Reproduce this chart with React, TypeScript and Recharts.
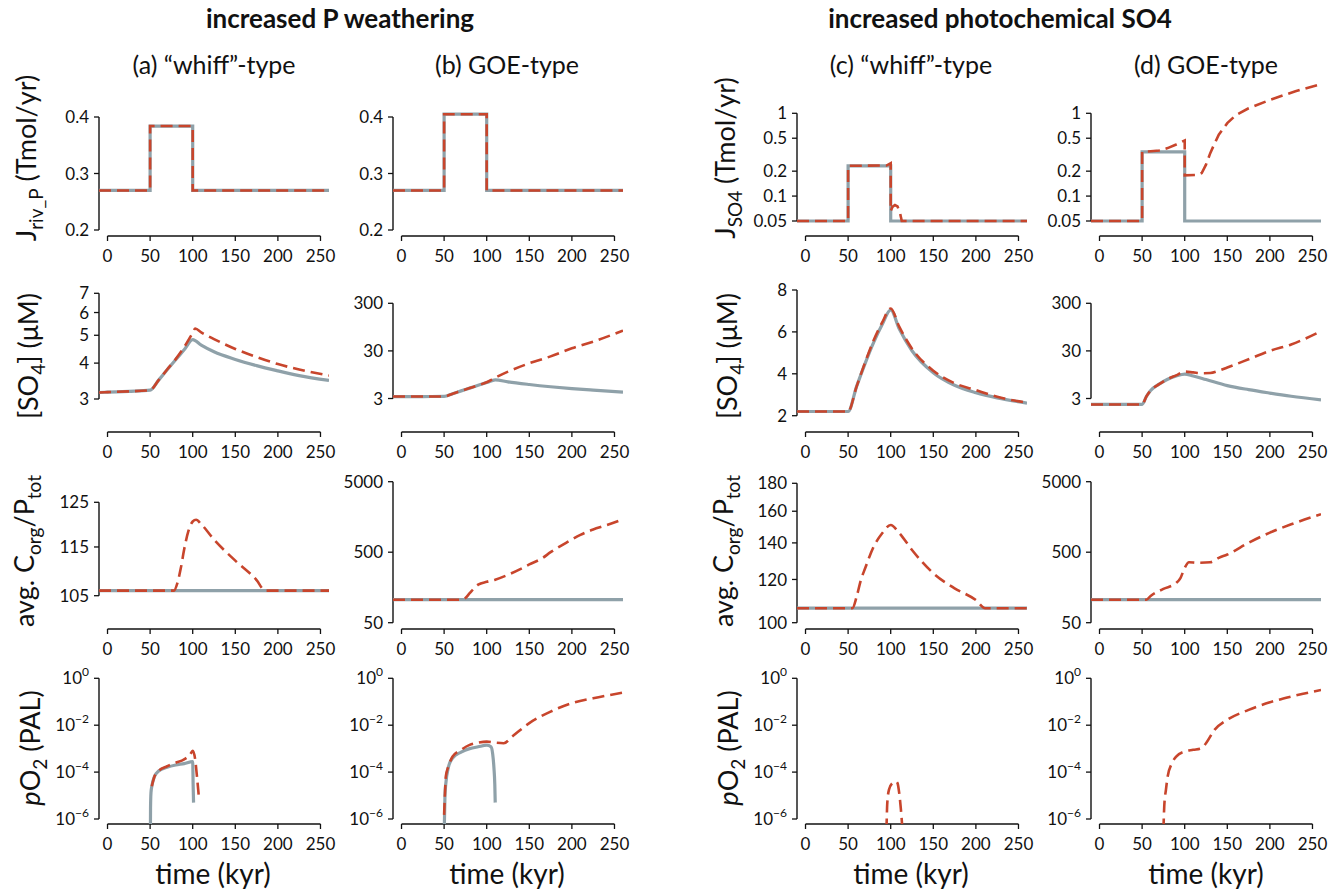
import React from 'react';
import { LineChart, Line, XAxis, YAxis, ReferenceLine } from 'recharts';

const FONT = 'Lato, "Open Sans", sans-serif';
const GRAY = '#8fa1a9';
const RED = '#c8452c';
const INK = '#111';
const X_TICKS = [0, 50, 100, 150, 200, 250];

// row 1: river P flux / photochemical SO4 flux (Tmol/yr)
const tStep = [-10, 50, 50, 100, 100, 260];
const fluxGrayA = [0.27, 0.27, 0.384, 0.384, 0.27, 0.27];
const fluxRedA = [0.27, 0.27, 0.384, 0.384, 0.27, 0.27];
const fluxGrayB = [0.27, 0.27, 0.405, 0.405, 0.27, 0.27];
const fluxRedB = [0.27, 0.27, 0.405, 0.405, 0.27, 0.27];
const fluxGrayC = [0.05, 0.05, 0.232, 0.232, 0.05, 0.05];
const fluxRedCT = [-10, 50, 50, 95, 100, 100, 102, 105, 108, 111, 113, 260];
const fluxRedC = [0.05, 0.05, 0.232, 0.234, 0.25, 0.066, 0.074, 0.078, 0.075, 0.062, 0.05, 0.05];
const fluxGrayD = [0.05, 0.05, 0.342, 0.342, 0.05, 0.05];
const fluxRedDT = [-10, 50, 50, 70, 80, 90, 100, 100, 115, 120, 125, 130, 135, 140, 150, 160, 175, 200, 230, 260];
const fluxRedD = [0.05, 0.05, 0.342, 0.355, 0.38, 0.42, 0.47, 0.178, 0.18, 0.19, 0.24, 0.33, 0.43, 0.55, 0.76, 0.95, 1.15, 1.45, 1.85, 2.25];

// row 2: [SO4] (uM)
const tSo4 = [-10, 0, 25, 50, 60, 70, 80, 90, 100, 110, 125, 150, 175, 200, 225, 260];
const so4GrayA = [3.16, 3.17, 3.19, 3.22, 3.49, 3.79, 4.11, 4.45, 4.83, 4.62, 4.38, 4.12, 3.92, 3.76, 3.62, 3.48];
const so4RedAT = [-10, 0, 25, 50, 60, 70, 80, 90, 100, 103, 110, 125, 150, 175, 200, 225, 260];
const so4RedA = [3.16, 3.17, 3.19, 3.22, 3.49, 3.8, 4.13, 4.55, 5.1, 5.28, 5.12, 4.85, 4.48, 4.2, 3.97, 3.8, 3.62];
const so4GrayB = [3.3, 3.3, 3.3, 3.32, 3.79, 4.34, 4.96, 5.67, 6.48, 7.4, 6.7, 5.9, 5.3, 4.85, 4.5, 4.1];
const so4RedB = [3.3, 3.3, 3.3, 3.32, 3.79, 4.34, 4.96, 5.67, 6.6, 8.2, 11, 16.5, 23, 34, 47, 80];
const so4GrayC = [2.2, 2.2, 2.2, 2.2, 3.4, 4.5, 5.5, 6.35, 7.05, 6.15, 5.1, 4.05, 3.45, 3.1, 2.85, 2.6];
const so4RedC = [2.2, 2.2, 2.2, 2.2, 3.4, 4.55, 5.6, 6.45, 7.12, 6.25, 5.2, 4.15, 3.55, 3.22, 2.9, 2.62];
const so4GrayDT = [-10, 0, 25, 50, 55, 60, 70, 80, 90, 100, 110, 125, 150, 175, 200, 225, 260];
const so4GrayD = [2.25, 2.25, 2.25, 2.25, 3.3, 4.4, 6.0, 7.6, 8.9, 9.8, 8.9, 7.5, 5.6, 4.6, 3.9, 3.35, 2.8];
const so4RedDT = [-10, 0, 25, 50, 55, 60, 70, 80, 90, 100, 110, 120, 130, 140, 150, 175, 200, 225, 260];
const so4RedD = [2.25, 2.25, 2.25, 2.25, 3.3, 4.4, 6.0, 7.7, 9.2, 11.0, 10.6, 10.2, 10.3, 11.5, 13.4, 20, 30, 41, 78];

// row 3: average Corg/Ptot burial ratio
const tFlat = [-10, 260];
const cpGrayA = [106, 106];
const cpRedAT = [-10, 50, 78, 82, 86, 90, 95, 100, 104, 110, 125, 150, 175, 185, 260];
const cpRedA = [106, 106, 106, 107.5, 110.5, 114.5, 118.5, 120.6, 121, 120, 116.6, 112.1, 108.1, 106, 106];
const cpGrayB = [106, 106];
const cpRedBT = [-10, 50, 70, 75, 80, 90, 100, 110, 125, 140, 150, 165, 175, 195, 210, 225, 240, 260];
const cpRedB = [106, 106, 106, 112, 131, 173, 190, 204, 239, 290, 335, 410, 500, 700, 880, 1050, 1200, 1466];
const cpGrayC = [106.3, 106.3];
const cpRedCT = [-10, 50, 55, 60, 65, 70, 80, 90, 100, 110, 125, 150, 175, 200, 211, 260];
const cpRedC = [106.3, 106.3, 106.3, 111.6, 119.7, 125.8, 137.8, 145.8, 151, 146, 135.9, 123.2, 115.6, 110, 106.3, 106.3];
const cpGrayD = [106, 106];
const cpRedDT = [-10, 50, 55, 60, 75, 90, 95, 100, 105, 115, 130, 140, 150, 175, 200, 225, 260];
const cpRedD = [106, 106, 106, 120, 151, 183, 215, 299, 360, 354, 360, 416, 463, 681, 946, 1244, 1728];

// row 4: pO2 (PAL)
const o2GrayAT = [50, 50.5, 51, 52, 55, 60, 70, 80, 90, 100, 100.5, 101];
const o2GrayA = [1e-9, 3e-6, 1.3e-5, 2.5e-5, 6.3e-5, 1.12e-4, 1.6e-4, 2e-4, 2.3e-4, 2.8e-4, 3e-5, 5e-6];
const o2RedAT = [52, 55, 60, 70, 80, 90, 97, 100, 103, 105, 107];
const o2RedA = [2.5e-5, 6.3e-5, 1.12e-4, 1.78e-4, 2.5e-4, 3.5e-4, 5.6e-4, 8e-4, 3.3e-4, 6.5e-5, 1.1e-5];
const o2GrayBT = [50.3, 51, 52, 55, 60, 70, 80, 90, 100, 105, 107, 108.5, 109.5, 110];
const o2GrayB = [6e-7, 1e-5, 3.2e-5, 1.6e-4, 4e-4, 7.1e-4, 1e-3, 1.2e-3, 1.4e-3, 1.2e-3, 6e-4, 1.5e-4, 3e-5, 5e-6];
const o2RedBT = [50, 51, 52, 55, 60, 70, 80, 90, 100, 110, 120, 130, 150, 175, 200, 225, 260];
const o2RedB = [1.5e-6, 1.26e-5, 6.5e-5, 1.74e-4, 4.6e-4, 8.9e-4, 1.45e-3, 1.8e-3, 2e-3, 1.8e-3, 1.7e-3, 3.3e-3, 1.23e-2, 3.8e-2, 8.7e-2, 0.141, 0.245];
const o2RedCT = [95, 96, 98, 102, 106, 108, 110, 112, 113.5];
const o2RedC = [3.2e-7, 4.8e-6, 1.8e-5, 3.4e-5, 4e-5, 3.4e-5, 1.26e-5, 2.5e-6, 5e-7];
const o2RedDT = [75, 76, 78, 80, 85, 90, 100, 110, 120, 125, 135, 150, 175, 200, 225, 260];
const o2RedD = [3.2e-7, 3.5e-6, 1.8e-5, 6.5e-5, 2.4e-4, 4.6e-4, 7.6e-4, 8.9e-4, 1.05e-3, 1.7e-3, 6.3e-3, 1.7e-2, 4.5e-2, 9.5e-2, 0.166, 0.316];

const toRows = (t: number[], v: number[]) => t.map((x, i) => ({ t: x, v: v[i] }));

// layout
const COL_LEFT = [99, 393, 797, 1091];
const PLOT_W = 230;
const YW = 60;
const XH = 36;
const MT = 16;
const ROWS = [
  { top: 80, bottom: 236 },
  { top: 283, bottom: 432 },
  { top: 476, bottom: 629 },
  { top: 672, bottom: 824 },
];

type Spec = {
  col: number;
  row: number;
  log: boolean;
  pow?: boolean;
  ticks: number[];
  anchor: [number, number, number, number];
  gray: [number[], number[]] | null;
  red: [number[], number[]];
  curve: 'linear' | 'monotone';
};

const PANELS: Spec[] = [
  { col: 0, row: 0, log: false, ticks: [0.2, 0.3, 0.4], anchor: [0.4, 117, 0.2, 230], gray: [tStep, fluxGrayA], red: [tStep, fluxRedA], curve: 'linear' },
  { col: 1, row: 0, log: false, ticks: [0.2, 0.3, 0.4], anchor: [0.4, 117, 0.2, 230], gray: [tStep, fluxGrayB], red: [tStep, fluxRedB], curve: 'linear' },
  { col: 2, row: 0, log: true, ticks: [0.05, 0.1, 0.2, 0.5, 1], anchor: [1, 113.3, 0.05, 221], gray: [tStep, fluxGrayC], red: [fluxRedCT, fluxRedC], curve: 'linear' },
  { col: 3, row: 0, log: true, ticks: [0.05, 0.1, 0.2, 0.5, 1], anchor: [1, 113.3, 0.05, 221], gray: [tStep, fluxGrayD], red: [fluxRedDT, fluxRedD], curve: 'linear' },

  { col: 0, row: 1, log: true, ticks: [3, 4, 5, 6, 7], anchor: [7, 293.3, 3, 399], gray: [tSo4, so4GrayA], red: [so4RedAT, so4RedA], curve: 'monotone' },
  { col: 1, row: 1, log: true, ticks: [3, 30, 300], anchor: [300, 303.3, 3, 398.5], gray: [tSo4, so4GrayB], red: [tSo4, so4RedB], curve: 'monotone' },
  { col: 2, row: 1, log: false, ticks: [2, 4, 6, 8], anchor: [8, 290, 2, 415.7], gray: [tSo4, so4GrayC], red: [tSo4, so4RedC], curve: 'monotone' },
  { col: 3, row: 1, log: true, ticks: [3, 30, 300], anchor: [300, 303.3, 3, 398.5], gray: [so4GrayDT, so4GrayD], red: [so4RedDT, so4RedD], curve: 'monotone' },

  { col: 0, row: 2, log: true, ticks: [105, 115, 125], anchor: [125, 502.3, 105, 595.7], gray: [tFlat, cpGrayA], red: [cpRedAT, cpRedA], curve: 'monotone' },
  { col: 1, row: 2, log: true, ticks: [50, 500, 5000], anchor: [5000, 481.7, 50, 622.7], gray: [tFlat, cpGrayB], red: [cpRedBT, cpRedB], curve: 'monotone' },
  { col: 2, row: 2, log: true, ticks: [100, 120, 140, 160, 180], anchor: [180, 483.3, 100, 622.7], gray: [tFlat, cpGrayC], red: [cpRedCT, cpRedC], curve: 'monotone' },
  { col: 3, row: 2, log: true, ticks: [50, 500, 5000], anchor: [5000, 481.7, 50, 622.7], gray: [tFlat, cpGrayD], red: [cpRedDT, cpRedD], curve: 'monotone' },

  { col: 0, row: 3, log: true, pow: true, ticks: [1e-6, 1e-4, 1e-2, 1], anchor: [1, 678.3, 1e-6, 819], gray: [o2GrayAT, o2GrayA], red: [o2RedAT, o2RedA], curve: 'monotone' },
  { col: 1, row: 3, log: true, pow: true, ticks: [1e-6, 1e-4, 1e-2, 1], anchor: [1, 678.3, 1e-6, 819], gray: [o2GrayBT, o2GrayB], red: [o2RedBT, o2RedB], curve: 'monotone' },
  { col: 2, row: 3, log: true, pow: true, ticks: [1e-6, 1e-4, 1e-2, 1], anchor: [1, 678.3, 1e-6, 819], gray: null, red: [o2RedCT, o2RedC], curve: 'monotone' },
  { col: 3, row: 3, log: true, pow: true, ticks: [1e-6, 1e-4, 1e-2, 1], anchor: [1, 678.3, 1e-6, 819], gray: null, red: [o2RedDT, o2RedD], curve: 'monotone' },
];

// y domain that puts the tick anchors at the measured pixel rows
function domainFor(log: boolean, a: [number, number, number, number], top: number, bottom: number): [number, number] {
  const [v1, p1, v2, p2] = a;
  const f = log ? Math.log10 : (x: number) => x;
  const g = log ? (x: number) => Math.pow(10, x) : (x: number) => x;
  const k = (f(v1) - f(v2)) / (p2 - p1);
  return [g(f(v2) - (bottom - p2) * k), g(f(v1) + (p1 - top) * k)];
}

const YTick = (props: any) => {
  const { x, y, payload, pow } = props;
  const v = payload.value;
  if (pow) {
    const e = Math.round(Math.log10(v));
    return (
      <text x={x} y={y} dy="0.36em" textAnchor="end" fontSize={17} fontFamily={FONT} fill={INK}>
        10
        <tspan dy={-8} fontSize={12}>{e === 0 ? '0' : '\u2212' + Math.abs(e)}</tspan>
      </text>
    );
  }
  return (
    <text x={x} y={y} dy="0.36em" textAnchor="end" fontSize={17} fontFamily={FONT} fill={INK}>
      {String(v)}
    </text>
  );
};

const Panel = ({ s }: { s: Spec }) => {
  const row = ROWS[s.row];
  const plotH = row.bottom - row.top;
  const dom = domainFor(s.log, s.anchor, row.top, row.bottom);
  const tMin = s.ticks[0];
  const tMax = s.ticks[s.ticks.length - 1];
  return (
    <div style={{ position: 'absolute', left: COL_LEFT[s.col] - YW, top: row.top - MT }}>
      <LineChart
        width={YW + PLOT_W + 14}
        height={MT + plotH + XH}
        margin={{ top: MT, right: 14, bottom: 0, left: 0 }}
      >
        <XAxis
          type="number"
          dataKey="t"
          domain={[-10, 260]}
          allowDataOverflow
          ticks={X_TICKS}
          interval={0}
          axisLine={false}
          tickSize={5}
          tickMargin={9}
          height={XH}
          tickLine={{ stroke: INK, strokeWidth: 1.3 }}
          tick={{ fontSize: 17, fill: INK, fontFamily: FONT }}
        />
        <YAxis
          type="number"
          scale={s.log ? 'log' : 'linear'}
          domain={dom}
          allowDataOverflow
          ticks={s.ticks}
          interval={0}
          axisLine={false}
          width={YW}
          tickSize={5}
          tickMargin={5}
          tickLine={{ stroke: INK, strokeWidth: 1.3 }}
          tick={(p: any) => <YTick {...p} pow={s.pow} />}
        />
        <ReferenceLine
          segment={[{ x: -10, y: tMin }, { x: -10, y: tMax }]}
          stroke={INK}
          strokeWidth={1.4}
          ifOverflow="visible"
        />
        <ReferenceLine
          segment={[{ x: 0, y: dom[0] }, { x: 250, y: dom[0] }]}
          stroke={INK}
          strokeWidth={1.4}
          ifOverflow="visible"
        />
        {s.gray && (
          <Line
            data={toRows(s.gray[0], s.gray[1])}
            dataKey="v"
            type={s.curve}
            stroke={GRAY}
            strokeWidth={3.2}
            dot={false}
            activeDot={false}
            isAnimationActive={false}
          />
        )}
        <Line
          data={toRows(s.red[0], s.red[1])}
          dataKey="v"
          type={s.curve}
          stroke={RED}
          strokeWidth={2.6}
          strokeDasharray="12 6"
          dot={false}
          activeDot={false}
          isAnimationActive={false}
        />
      </LineChart>
    </div>
  );
};

const SUB = 7;
const SUB_FS = 19;

const YLabel = ({ x, y, children }: { x: number; y: number; children: React.ReactNode }) => (
  <text
    transform={`translate(${x},${y}) rotate(-90)`}
    textAnchor="middle"
    fontSize={27}
    fontFamily={FONT}
    fill={INK}
  >
    {children}
  </text>
);

const Labels = () => (
  <svg
    width={1338}
    height={895}
    style={{ position: 'absolute', left: 0, top: 0, pointerEvents: 'none' }}
  >
    <text x={340} y={28} textAnchor="middle" fontSize={26} fontWeight="bold" fontFamily={FONT} fill={INK}>
      increased P weathering
    </text>
    <text x={1000} y={28} textAnchor="middle" fontSize={26} fontWeight="bold" fontFamily={FONT} fill={INK}>
      increased photochemical SO4
    </text>
    {[
      { x: 214, t: '(a) \u201Cwhiff\u201D-type' },
      { x: 507, t: '(b) GOE-type' },
      { x: 911, t: '(c) \u201Cwhiff\u201D-type' },
      { x: 1206, t: '(d) GOE-type' },
    ].map((d) => (
      <text key={d.t} x={d.x} y={74} textAnchor="middle" fontSize={25} fontFamily={FONT} fill={INK}>
        {d.t}
      </text>
    ))}
    {[213, 507, 911, 1206].map((x) => (
      <text key={x} x={x} y={884} textAnchor="middle" fontSize={28} fontFamily={FONT} fill={INK}>
        time (kyr)
      </text>
    ))}

    <YLabel x={36} y={158}>
      J<tspan dy={SUB} fontSize={SUB_FS}>riv_P</tspan>
      <tspan dy={-SUB}> (Tmol/yr)</tspan>
    </YLabel>
    <YLabel x={735} y={158}>
      J<tspan dy={SUB} fontSize={SUB_FS}>SO4</tspan>
      <tspan dy={-SUB}> (Tmol/yr)</tspan>
    </YLabel>
    {[38, 737].map((x) => (
      <YLabel key={x} x={x} y={356}>
        [SO<tspan dy={SUB} fontSize={SUB_FS}>4</tspan>
        <tspan dy={-SUB}>]  (μM)</tspan>
      </YLabel>
    ))}
    {[34, 733].map((x) => (
      <YLabel key={x} x={x} y={551}>
        avg. C<tspan dy={SUB} fontSize={SUB_FS}>org</tspan>
        <tspan dy={-SUB}>/P</tspan>
        <tspan dy={SUB} fontSize={SUB_FS}>tot</tspan>
      </YLabel>
    ))}
    {[40, 738].map((x) => (
      <YLabel key={x} x={x} y={748}>
        <tspan fontStyle="italic">p</tspan>O<tspan dy={SUB} fontSize={SUB_FS}>2</tspan>
        <tspan dy={-SUB}> (PAL)</tspan>
      </YLabel>
    ))}
  </svg>
);

export default function App() {
  return (
    <div style={{ position: 'absolute', left: 0, top: 0, width: 1338, height: 895, background: '#fff' }}>
      {PANELS.map((s) => (
        <Panel key={`${s.row}-${s.col}`} s={s} />
      ))}
      <Labels />
    </div>
  );
}
